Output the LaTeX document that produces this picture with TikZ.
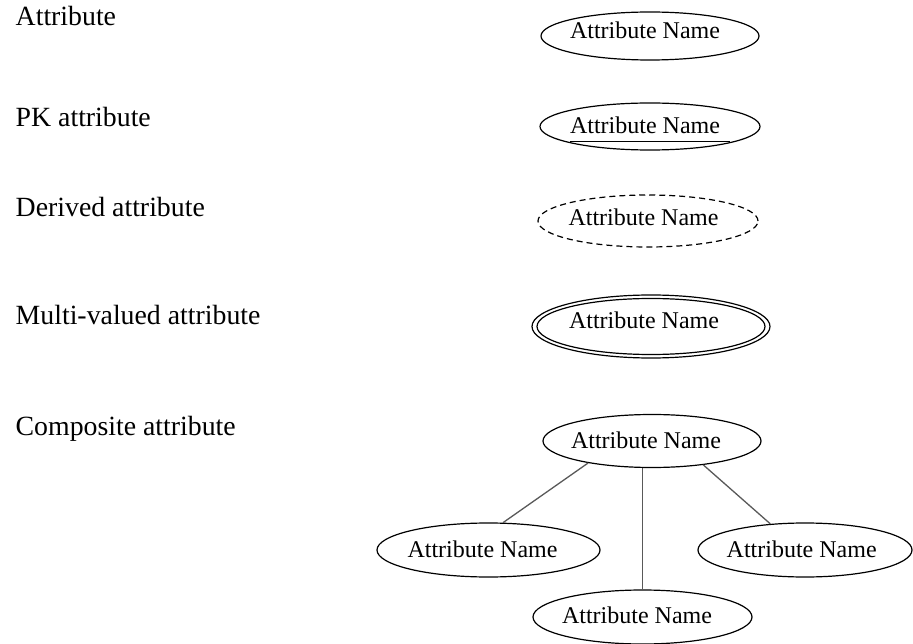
\documentclass[tikz,border=0pt]{standalone}
\usepackage{fontspec}
\setmainfont{Liberation Serif}
\usetikzlibrary{shapes.geometric}
\tikzset{
  kind/.style={anchor=base west, inner sep=0pt, font=\fontsize{27.8}{33}\selectfont},
  attr/.style={ellipse, draw=black, line width=1.2pt, fill=white, inner sep=0pt},
  derived/.style={attr, dashed, dash pattern=on 6pt off 4pt},
  attrtext/.style={anchor=base, inner sep=0pt, font=\fontsize{24}{29}\selectfont},
  link/.style={draw=black!65, line width=1.3pt},
}
\begin{document}
\begin{tikzpicture}[x=1pt,y=-1pt]
\useasboundingbox (0,0) rectangle (913,644);

% legend captions
\node[kind] (k1) at (15.5,26) {Attribute};
\node[kind] (k2) at (15.5,127) {PK attribute};
\node[kind] (k3) at (15.5,217) {Derived attribute};
\node[kind] (k4) at (15.5,324) {Multi-valued attribute};
\node[kind] (k5) at (15.5,435) {Composite attribute};

% simple attribute
\node[attr, minimum width=218pt, minimum height=48pt] (e1) at (650,36) {};
\node[attrtext] (t1) at (645,38.3) {Attribute Name};

% key attribute (underlined name)
\node[attr, minimum width=220pt, minimum height=47pt] (e2) at (650,126.5) {};
\node[attrtext] (t2) at (645,133.3) {Attribute Name};
\draw[line width=0.9pt] ([yshift=-8.4pt]t2.base west) -- ([yshift=-8.4pt,xshift=10pt]t2.base east);

% derived attribute
\node[derived, minimum width=220pt, minimum height=52pt] (e3) at (648,221) {};
\node[attrtext] (t3) at (643.5,225.7) {Attribute Name};

% multi-valued attribute (double outline)
\node[attr, minimum width=238pt, minimum height=63pt] (e4o) at (651,326.5) {};
\node[attr, minimum width=228pt, minimum height=56pt] (e4i) at (651,326.5) {};
\node[attrtext] (t4) at (644,328) {Attribute Name};

% composite attribute and its parts
\node[attr, minimum width=218pt, minimum height=53pt] (c0) at (652,441) {};
\node[attr, minimum width=223pt, minimum height=54pt] (c1) at (488.5,550) {};
\node[attr, minimum width=219pt, minimum height=54pt] (c2) at (642.5,617) {};
\node[attr, minimum width=214pt, minimum height=54pt] (c3) at (805,550) {};

\draw[link] (c0.199) -- (c1.62);
\draw[link] (c2.north) -- (c2.north |- c0.south);
\draw[link] (c0.335) -- (c3.143);

\node[attrtext] (s0) at (646,448) {Attribute Name};
\node[attrtext] (s1) at (482.5,557) {Attribute Name};
\node[attrtext] (s2) at (637,623) {Attribute Name};
\node[attrtext] (s3) at (801.7,557) {Attribute Name};
\end{tikzpicture}
\end{document}
